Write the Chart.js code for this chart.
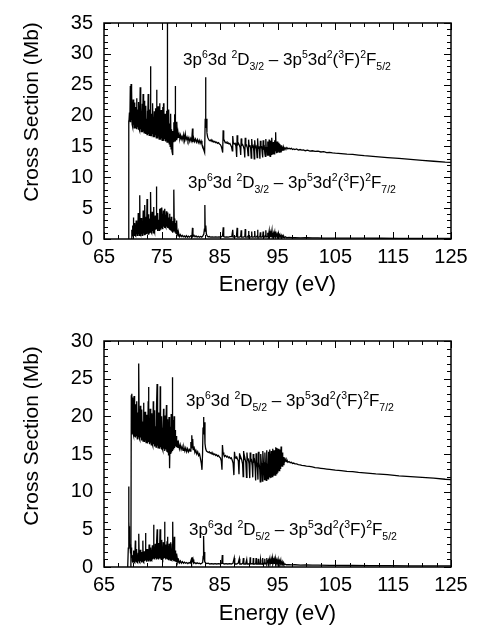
<!DOCTYPE html>
<html><head><meta charset="utf-8">
<script src="https://cdn.jsdelivr.net/npm/chart.js@4.4.1/dist/chart.umd.min.js"></script>
<style>
html,body{margin:0;padding:0;background:#fff;}
#wrap{position:relative;width:477px;height:632px;overflow:hidden;background:#fff;}
canvas{position:absolute;left:0;}
.lbl{position:absolute;font-family:"Liberation Sans",Arial,sans-serif;font-size:17px;color:#000;white-space:nowrap;line-height:1;}
.lbl sup{font-size:10.5px;vertical-align:0;position:relative;top:-7px;}
.lbl sub{font-size:10.5px;vertical-align:0;position:relative;top:5px;}
</style></head>
<body><div id="wrap">
<canvas id="c1" width="477" height="316" style="top:0"></canvas>
<canvas id="c2" width="477" height="316" style="top:316px"></canvas>
<div class="lbl" style="left:183px;top:51px">3p<sup>6</sup>3d <sup>2</sup>D<sub>3/2</sub> – 3p<sup>5</sup>3d<sup>2</sup>(<sup>3</sup>F)<sup>2</sup>F<sub>5/2</sub></div>
<div class="lbl" style="left:188px;top:174px">3p<sup>6</sup>3d <sup>2</sup>D<sub>3/2</sub> – 3p<sup>5</sup>3d<sup>2</sup>(<sup>3</sup>F)<sup>2</sup>F<sub>7/2</sub></div>
<div class="lbl" style="left:186px;top:392px">3p<sup>6</sup>3d <sup>2</sup>D<sub>5/2</sub> – 3p<sup>5</sup>3d<sup>2</sup>(<sup>3</sup>F)<sup>2</sup>F<sub>7/2</sub></div>
<div class="lbl" style="left:189px;top:521px">3p<sup>6</sup>3d <sup>2</sup>D<sub>5/2</sub> – 3p<sup>5</sup>3d<sup>2</sup>(<sup>3</sup>F)<sup>2</sup>F<sub>5/2</sub></div>
</div>
<script>
// ---- tick labels ----
const energyTicks = [65, 75, 85, 95, 105, 115, 125];
const topSigmaTicks = [0, 5, 10, 15, 20, 25, 30, 35];
const bottomSigmaTicks = [0, 5, 10, 15, 20, 25, 30];
const xTitle = "Energy (eV)";
const yTitle = "Cross Section (Mb)";

// ---- series: [energy (eV), cross section (Mb)] ----
// top panel, 3p6 3d 2D3/2 -> 3p5 3d2(3F) 2F5/2
const topUpper = [
[69.20,0],[69.25,19.2],[69.32,18.6],[69.40,20.5],[69.47,19.0],[69.55,24.8],[69.60,18.9],[69.68,25.1],[69.74,19.3],[69.80,24.2],
[69.86,18.6],[69.92,21.8],[69.98,18.2],[70.04,22.6],[70.10,18.5],[70.16,20.9],[70.22,18.0],[70.28,22.1],[70.34,18.3],[70.40,21.4],
[70.46,17.9],[70.52,20.2],[70.58,18.4],[70.64,22.8],[70.70,17.8],[70.76,21.0],[70.82,18.1],[70.88,20.4],[70.94,17.7],[71.00,22.2],
[71.06,17.9],[71.12,20.6],[71.18,17.6],[71.26,24.6],[71.32,17.8],[71.38,21.3],[71.44,17.4],[71.50,20.1],[71.56,17.7],[71.62,21.9],
[71.68,17.3],[71.76,23.5],[71.82,17.5],[71.88,20.0],[71.94,17.2],[72.00,22.4],[72.06,17.4],[72.12,19.8],[72.18,17.0],[72.26,21.6],
[72.32,17.3],[72.38,19.5],[72.44,16.9],[72.50,20.8],[72.56,17.2],[72.64,23.5],[72.70,17.0],[72.76,19.9],[72.82,16.8],[72.90,21.0],
[72.96,17.1],[73.04,28.0],[73.10,16.9],[73.16,20.3],[73.22,16.7],[73.30,19.1],[73.36,17.0],[73.44,22.0],[73.50,16.6],[73.56,19.6],
[73.62,16.9],[73.70,20.7],[73.76,16.5],[73.82,19.0],[73.88,16.8],[73.96,21.2],[74.04,16.4],[74.10,24.2],[74.16,16.7],[74.22,19.3],
[74.28,16.3],[74.36,21.5],[74.42,16.6],[74.48,19.0],[74.54,16.2],[74.62,22.0],[74.68,16.5],[74.74,18.8],[74.80,16.1],[74.88,20.9],
[74.94,16.4],[75.00,19.2],[75.06,16.0],[75.14,21.4],[75.20,16.3],[75.30,22.0],[75.36,15.9],[75.42,19.0],[75.48,16.2],[75.56,20.3],
[75.62,15.8],[75.70,18.6],[75.76,16.1],[75.84,20.8],[75.90,15.7],[75.95,35.5],[76.00,15.9],[76.08,19.4],[76.14,15.6],[76.22,21.0],
[76.28,15.4],[76.36,18.7],[76.44,15.0],[76.52,20.3],[76.60,14.6],[76.68,17.8],[76.76,14.2],[76.86,13.6],[76.92,17.5],[77.00,15.8],
[77.08,18.9],[77.14,16.0],[77.22,20.2],[77.28,15.9],[77.32,24.8],[77.38,16.2],[77.46,18.1],[77.54,16.0],[77.62,19.0],[77.70,16.3],
[77.80,17.2],[77.90,16.4],[78.00,16.9],[78.12,16.3],[78.24,16.8],[78.36,16.2],[78.50,16.6],[78.64,16.1],[78.78,16.9],[78.92,16.0],
[79.06,17.0],[79.20,16.1],[79.36,16.5],[79.52,15.9],[79.68,16.4],[79.84,15.8],[80.00,16.3],[80.16,15.9],[80.30,17.9],[80.38,15.7],
[80.50,16.4],[80.66,15.8],[80.82,16.2],[80.98,15.7],[81.14,16.1],[81.30,15.6],[81.46,16.0],[81.62,15.5],[81.78,15.9],[81.94,15.3],
[82.10,15.0],[82.26,14.4],[82.40,14.0],[82.50,19.5],[82.56,26.2],[82.62,18.0],[82.70,19.5],[82.80,17.2],[82.92,16.5],[83.06,16.2],
[83.20,16.0],[83.36,15.9],[83.52,16.1],[83.68,15.8],[83.84,15.9],[84.00,15.7],[84.16,15.8],[84.32,15.6],[84.48,15.7],[84.64,15.5],
[84.80,15.6],[84.96,15.4],[85.12,15.3],[85.28,15.0],[85.42,14.5],[85.52,14.0],[85.60,17.6],[85.70,16.2],[85.82,15.9],[85.96,15.6],
[86.12,15.7],[86.28,15.5],[86.44,15.6],[86.60,15.4],[86.76,15.5],[86.92,15.2],[87.06,14.9],[87.18,14.3],[87.26,16.7],[87.36,15.6],
[87.50,15.4],[87.66,15.5],[87.82,15.0],[87.94,13.3],[88.02,16.8],[88.12,15.3],[88.26,15.5],[88.40,15.2],[88.54,14.8],[88.64,13.6],
[88.72,16.3],[88.82,15.2],[88.96,15.3],[89.10,15.0],[89.24,14.5],[89.34,13.2],[89.42,16.4],[89.52,15.1],[89.66,15.2],[89.80,14.7],
[89.92,13.5],[90.00,16.1],[90.10,15.0],[90.24,15.2],[90.36,14.6],[90.46,13.1],[90.54,16.2],[90.64,14.9],[90.78,15.1],[90.90,14.3],
[90.98,13.0],[91.06,16.0],[91.16,14.8],[91.30,15.0],[91.40,14.2],[91.48,13.2],[91.56,16.3],[91.66,14.7],[91.78,15.0],[91.88,14.1],
[91.96,13.0],[92.04,15.9],[92.14,14.8],[92.26,14.9],[92.36,13.9],[92.44,13.2],[92.52,16.0],[92.62,14.7],[92.72,14.9],[92.82,13.8],
[92.90,13.4],[92.98,16.2],[93.06,14.6],[93.16,14.9],[93.24,13.6],[93.32,15.8],[93.40,14.5],[93.48,13.5],[93.56,16.1],[93.64,14.6],
[93.72,13.4],[93.80,15.9],[93.88,14.5],[93.96,13.6],[94.04,16.4],[94.12,14.4],[94.20,13.7],[94.28,15.7],[94.36,14.5],[94.44,13.8],
[94.52,16.0],[94.60,14.4],[94.68,17.3],[94.76,14.3],[94.84,13.9],[94.92,15.8],[95.00,14.4],[95.08,14.0],[95.16,15.6],[95.24,14.3],
[95.32,14.1],[95.40,15.4],[95.48,14.3],[95.56,14.2],[95.64,15.2],[95.72,14.3],[95.80,14.4],[95.88,15.0],[95.96,14.4],[96.06,14.8],
[96.16,14.5],[96.30,14.8],[96.46,14.6],[96.62,14.8],[96.80,14.6],[97.00,14.7],[97.20,14.6],[97.40,14.7],[97.60,14.5],[97.80,14.6],
[98.00,14.5],[98.30,14.6],[98.60,14.4],[98.90,14.5],[99.20,14.4],[99.50,14.45],[99.80,14.3],[100.2,14.4],[100.6,14.25],[101.0,14.3],
[101.5,14.2],[102.0,14.25],[102.5,14.1],[103.0,14.15],[103.5,14.0],[104.0,14.05],[104.5,13.95],[105.0,13.9],[106,13.85],[107,13.75],
[108,13.7],[109,13.6],[110,13.5],[112,13.35],[114,13.2],[116,13.05],[118,12.9],[120,12.75],[122,12.6],[124,12.45],[125,12.4]
];
// top panel, 3p6 3d 2D3/2 -> 3p5 3d2(3F) 2F7/2
const topLower = [
[69.70,0],[69.78,0.6],[69.84,1.5],[69.90,0.5],[69.96,2.2],[70.02,0.6],[70.08,3.5],[70.14,0.7],[70.20,1.8],[70.26,0.5],
[70.32,2.6],[70.38,0.6],[70.44,1.4],[70.50,0.5],[70.56,3.0],[70.62,0.8],[70.68,1.9],[70.74,0.6],[70.80,2.4],[70.86,0.7],
[70.92,4.2],[70.98,0.8],[71.04,1.6],[71.10,0.6],[71.18,7.1],[71.24,0.9],[71.30,2.5],[71.36,0.7],[71.42,3.4],[71.48,0.8],
[71.54,1.7],[71.60,0.6],[71.66,2.8],[71.72,0.8],[71.78,4.6],[71.84,0.9],[71.90,2.0],[71.96,0.7],[72.04,5.5],[72.10,0.8],
[72.16,2.3],[72.22,0.9],[72.30,3.6],[72.36,0.8],[72.44,6.5],[72.50,1.0],[72.56,2.7],[72.62,0.8],[72.70,4.0],[72.76,1.1],
[72.82,2.2],[72.88,0.9],[72.96,3.3],[73.02,1.0],[73.08,7.6],[73.14,1.2],[73.20,2.9],[73.26,1.0],[73.34,4.4],[73.40,1.3],
[73.46,2.5],[73.52,1.0],[73.60,5.2],[73.66,1.4],[73.72,3.0],[73.78,1.1],[73.86,3.8],[73.92,1.5],[74.00,2.6],[74.06,8.5],
[74.12,1.6],[74.18,3.4],[74.24,1.3],[74.32,4.2],[74.38,1.7],[74.46,3.1],[74.52,1.4],[74.60,4.9],[74.66,1.8],[74.72,3.5],
[74.78,1.5],[74.84,5.0],[74.90,1.9],[74.96,3.6],[75.02,5.1],[75.08,1.7],[75.14,4.0],[75.20,1.9],[75.28,4.6],[75.34,2.0],
[75.40,3.8],[75.46,1.8],[75.54,4.9],[75.60,2.1],[75.66,3.9],[75.72,1.9],[75.80,4.5],[75.86,2.0],[75.92,3.7],[75.98,1.8],
[76.06,4.3],[76.12,1.9],[76.20,3.5],[76.26,1.7],[76.34,4.1],[76.40,1.6],[76.48,3.2],[76.56,1.4],[76.64,3.6],[76.72,1.2],
[76.80,2.4],[76.88,1.0],[76.96,2.9],[77.04,1.2],[77.10,8.0],[77.16,1.4],[77.24,3.3],[77.30,1.1],[77.38,2.6],[77.46,0.9],
[77.56,3.0],[77.64,0.7],[77.72,1.5],[77.80,0.5],[77.92,0.9],[78.04,0.4],[78.20,0.7],[78.36,0.4],[78.52,0.6],[78.70,0.35],
[78.88,0.5],[79.06,0.3],[79.24,0.55],[79.42,0.3],[79.60,0.45],[79.80,0.3],[80.00,0.5],[80.20,0.4],[80.30,1.8],[80.38,0.4],
[80.56,0.6],[80.74,0.35],[80.92,0.5],[81.10,0.3],[81.30,0.45],[81.50,0.3],[81.70,0.4],[81.90,0.3],[82.10,0.5],[82.26,0.8],
[82.36,1.6],[82.44,5.5],[82.50,1.3],[82.60,2.2],[82.70,0.8],[82.84,0.5],[83.00,0.35],[83.20,0.4],[83.40,0.3],[83.70,0.35],
[84.00,0.3],[84.30,0.35],[84.60,0.3],[84.90,0.35],[85.20,0.3],[85.50,0.5],[85.62,1.9],[85.70,0.4],[85.90,0.3],[86.20,0.35],
[86.50,0.3],[86.80,0.4],[87.10,0.4],[87.26,1.5],[87.34,0.3],[87.60,0.3],[87.90,0.4],[88.02,1.8],[88.10,0.3],[88.40,0.3],
[88.64,0.4],[88.72,1.4],[88.80,0.3],[89.10,0.3],[89.36,0.4],[89.42,1.6],[89.50,0.3],[89.80,0.3],[89.94,0.5],[90.00,1.3],
[90.06,0.3],[90.30,0.3],[90.48,0.4],[90.54,1.2],[90.60,0.3],[90.80,0.3],[91.00,0.4],[91.06,1.3],[91.12,0.3],[91.30,0.3],
[91.50,0.5],[91.56,1.5],[91.62,0.3],[91.80,0.3],[91.96,0.4],[92.04,1.1],[92.10,0.3],[92.30,0.3],[92.46,0.5],[92.52,1.2],
[92.58,0.3],[92.76,0.3],[92.90,0.6],[92.98,1.4],[93.04,0.3],[93.20,0.4],[93.32,1.0],[93.40,0.3],[93.56,1.3],[93.62,0.3],
[93.80,1.0],[93.86,0.3],[94.04,1.4],[94.10,0.3],[94.28,0.9],[94.34,0.3],[94.52,1.1],[94.58,0.3],[94.68,1.2],[94.74,0.3],
[94.92,0.8],[95.00,0.3],[95.16,0.9],[95.22,0.3],[95.40,0.7],[95.46,0.25],[95.64,0.6],[95.72,0.25],[95.88,0.5],[95.96,0.25],
[96.10,0.4],[96.20,0.2],[96.40,0.35],[96.60,0.2],[97.00,0.25],[97.5,0.2],[98.0,0.22],[99,0.18],[100,0.2],[101,0.17],
[102,0.18],[103,0.15],[105,0.15],[107,0.14],[110,0.13],[113,0.12],[116,0.11],[120,0.1],[125,0.1]
];
// bottom panel, 3p6 3d 2D5/2 -> 3p5 3d2(3F) 2F7/2
const bottomUpper = [
[69.65,0],[69.72,22.8],[69.78,17.6],[69.84,23.0],[69.90,18.2],[69.96,22.5],[70.02,17.8],[70.08,21.0],[70.14,17.5],[70.20,22.7],
[70.26,17.3],[70.32,20.4],[70.38,17.6],[70.44,21.6],[70.50,17.2],[70.56,19.8],[70.62,17.4],[70.70,22.0],[70.76,17.0],[70.82,20.5],
[70.88,17.3],[70.96,21.2],[71.04,27.0],[71.10,17.1],[71.16,20.0],[71.22,16.9],[71.30,21.4],[71.36,17.2],[71.42,19.5],[71.48,16.8],
[71.56,20.9],[71.62,17.0],[71.70,19.3],[71.76,16.7],[71.84,21.8],[71.90,16.9],[71.96,19.0],[72.02,16.6],[72.10,20.6],[72.16,16.8],
[72.22,19.2],[72.28,16.5],[72.36,20.2],[72.42,16.7],[72.50,18.9],[72.56,16.4],[72.64,22.0],[72.70,23.9],[72.76,16.6],[72.84,19.4],
[72.90,16.3],[72.98,21.0],[73.04,16.5],[73.12,19.0],[73.18,16.2],[73.26,20.4],[73.32,16.4],[73.40,18.8],[73.46,16.1],[73.52,22.0],
[73.58,16.3],[73.66,19.2],[73.72,16.0],[73.80,20.8],[73.86,16.2],[73.94,18.7],[74.00,15.9],[74.08,21.2],[74.18,24.3],[74.24,16.1],
[74.30,19.0],[74.36,15.8],[74.44,20.5],[74.50,16.0],[74.58,18.6],[74.64,15.7],[74.72,24.0],[74.78,15.9],[74.86,19.3],[74.92,15.6],
[75.00,20.0],[75.06,15.8],[75.14,18.5],[75.20,15.5],[75.30,21.0],[75.36,15.7],[75.44,19.2],[75.50,15.4],[75.58,20.1],[75.64,15.6],
[75.72,18.4],[75.80,21.5],[75.86,15.3],[75.94,19.6],[76.00,15.2],[76.08,18.2],[76.16,14.8],[76.24,19.9],[76.30,14.3],[76.38,13.1],
[76.46,18.6],[76.54,15.0],[76.62,20.3],[76.68,15.2],[76.76,18.0],[76.82,25.2],[76.88,15.4],[76.96,19.5],[77.04,15.6],[77.12,20.0],
[77.20,15.8],[77.28,18.2],[77.36,16.0],[77.46,17.4],[77.56,15.9],[77.66,16.8],[77.78,15.8],[77.90,16.4],[78.04,15.7],[78.18,16.2],
[78.34,15.6],[78.50,16.0],[78.66,15.5],[78.82,15.9],[78.98,15.4],[79.14,15.8],[79.30,15.3],[79.46,15.7],[79.62,15.3],[79.78,15.6],
[79.92,15.4],[80.02,16.6],[80.10,15.8],[80.18,17.5],[80.26,16.2],[80.34,17.0],[80.42,15.6],[80.56,16.0],[80.72,15.2],[80.88,15.5],
[81.04,15.0],[81.20,15.3],[81.36,14.8],[81.52,15.0],[81.68,14.4],[81.82,13.8],[81.94,12.9],[82.04,15.0],[82.12,18.5],[82.20,19.9],
[82.28,17.6],[82.36,19.2],[82.46,16.4],[82.58,15.7],[82.72,15.4],[82.88,15.3],[83.04,15.2],[83.20,15.3],[83.36,15.1],[83.52,15.2],
[83.68,15.0],[83.84,15.1],[84.00,14.9],[84.16,15.0],[84.32,14.8],[84.48,14.9],[84.64,14.7],[84.80,14.8],[84.96,14.6],[85.12,14.5],
[85.28,14.1],[85.40,12.9],[85.48,16.2],[85.58,15.2],[85.72,14.9],[85.88,14.7],[86.04,14.8],[86.20,14.6],[86.36,14.7],[86.52,14.5],
[86.68,14.6],[86.84,14.4],[87.00,14.5],[87.16,14.2],[87.32,13.8],[87.46,12.2],[87.56,15.3],[87.66,14.6],[87.80,14.5],[87.94,14.6],
[88.08,14.3],[88.22,14.1],[88.34,12.3],[88.44,15.1],[88.54,14.4],[88.68,14.5],[88.82,14.2],[88.96,13.7],[89.06,12.0],[89.14,15.4],
[89.24,14.3],[89.38,14.4],[89.52,13.9],[89.64,11.9],[89.72,15.2],[89.82,14.2],[89.96,14.3],[90.08,13.7],[90.20,11.8],[90.28,15.2],
[90.38,14.1],[90.50,14.2],[90.62,13.5],[90.72,11.9],[90.80,15.0],[90.90,14.0],[91.02,14.2],[91.12,13.3],[91.22,11.5],[91.30,15.1],
[91.40,14.0],[91.52,13.2],[91.62,11.6],[91.70,15.3],[91.80,13.9],[91.92,13.1],[92.02,11.3],[92.10,15.0],[92.20,13.8],[92.30,12.8],
[92.38,11.4],[92.46,15.4],[92.56,13.9],[92.66,12.6],[92.74,11.6],[92.82,15.2],[92.90,13.8],[92.98,12.4],[93.06,11.5],[93.14,15.5],
[93.22,13.7],[93.30,12.2],[93.38,11.7],[93.46,15.3],[93.54,13.8],[93.62,11.9],[93.70,15.6],[93.78,13.7],[93.86,11.8],[93.94,15.4],
[94.02,13.6],[94.10,12.0],[94.18,15.7],[94.26,13.7],[94.34,12.1],[94.42,15.5],[94.50,13.6],[94.58,12.2],[94.66,15.9],[94.74,13.5],
[94.82,12.4],[94.90,15.8],[94.98,13.6],[95.06,12.5],[95.14,15.7],[95.22,13.6],[95.30,12.8],[95.38,15.6],[95.46,13.7],[95.54,13.0],
[95.62,16.0],[95.70,13.8],[95.78,13.4],[95.86,15.2],[95.94,13.9],[96.02,13.6],[96.12,14.6],[96.22,14.0],[96.34,14.3],[96.48,14.0],
[96.64,14.2],[96.80,13.9],[97.00,14.0],[97.20,13.85],[97.40,13.9],[97.60,13.75],[97.80,13.8],[98.00,13.7],[98.30,13.7],[98.60,13.6],
[98.90,13.55],[99.20,13.5],[99.60,13.45],[100.0,13.4],[100.5,13.35],[101.0,13.3],[101.5,13.2],[102.0,13.15],[102.5,13.1],[103.0,13.05],
[103.5,13.0],[104.0,12.95],[105,12.85],[106,12.8],[107,12.7],[108,12.65],[109,12.55],[110,12.5],[112,12.35],[114,12.25],
[116,12.1],[118,12.0],[120,11.9],[122,11.8],[124,11.65],[125,11.6]
];
// bottom panel, 3p6 3d 2D5/2 -> 3p5 3d2(3F) 2F5/2
const bottomLower = [
[69.10,0],[69.20,2.5],[69.26,10.7],[69.32,6.0],[69.38,4.2],[69.44,5.4],[69.50,3.0],[69.56,2.5],[69.62,1.8],[69.68,2.6],
[69.74,1.2],[69.80,1.8],[69.86,0.8],[69.92,1.4],[69.98,0.7],[70.04,1.6],[70.10,0.6],[70.16,2.2],[70.22,0.7],[70.28,1.3],
[70.34,0.6],[70.42,3.5],[70.48,0.7],[70.54,1.5],[70.60,0.6],[70.66,2.4],[70.72,0.7],[70.78,1.2],[70.84,0.6],[70.92,1.9],
[70.98,0.8],[71.04,4.4],[71.10,0.7],[71.16,1.6],[71.22,0.6],[71.30,2.3],[71.36,0.8],[71.42,1.3],[71.48,0.6],[71.56,2.0],
[71.62,0.8],[71.72,3.5],[71.78,0.7],[71.84,1.4],[71.90,0.6],[71.98,2.1],[72.04,0.8],[72.12,1.5],[72.18,4.5],[72.24,0.9],
[72.30,1.8],[72.36,0.7],[72.44,2.4],[72.50,0.9],[72.58,1.6],[72.64,0.8],[72.72,1.2],[72.80,3.0],[72.86,0.9],[72.94,2.0],
[73.00,0.8],[73.08,2.6],[73.14,1.0],[73.22,1.8],[73.28,0.9],[73.36,2.9],[73.42,1.0],[73.50,2.2],[73.58,5.6],[73.64,1.1],
[73.72,2.7],[73.78,1.0],[73.86,3.1],[73.92,1.2],[74.00,2.4],[74.06,1.0],[74.14,3.4],[74.20,5.0],[74.26,1.1],[74.34,2.8],
[74.40,1.0],[74.48,3.2],[74.54,1.2],[74.62,2.5],[74.70,5.0],[74.76,1.1],[74.84,2.9],[74.90,1.0],[74.98,3.6],[75.04,1.2],
[75.12,2.6],[75.18,1.0],[75.26,3.3],[75.32,1.1],[75.40,2.4],[75.48,6.0],[75.54,1.2],[75.62,3.0],[75.68,1.0],[75.76,2.7],
[75.82,1.1],[75.90,3.4],[75.98,4.0],[76.04,1.0],[76.12,2.8],[76.18,0.9],[76.26,3.1],[76.32,1.0],[76.40,2.5],[76.46,0.9],
[76.54,3.3],[76.60,1.0],[76.68,2.4],[76.74,0.9],[76.82,3.0],[76.88,6.0],[76.94,1.0],[77.02,2.6],[77.08,0.9],[77.16,4.0],
[77.22,0.8],[77.30,2.2],[77.38,0.7],[77.46,1.8],[77.56,0.6],[77.66,1.2],[77.78,0.6],[77.92,0.9],[78.06,0.55],[78.22,0.8],
[78.38,0.5],[78.56,0.7],[78.74,0.5],[78.92,0.65],[79.10,0.5],[79.30,0.6],[79.50,0.45],[79.70,0.6],[79.90,0.5],[80.06,0.9],
[80.14,0.6],[80.22,1.3],[80.30,0.6],[80.40,1.0],[80.52,0.5],[80.70,0.6],[80.90,0.45],[81.10,0.55],[81.30,0.45],[81.50,0.5],
[81.70,0.4],[81.90,0.5],[82.06,0.6],[82.14,1.4],[82.22,4.1],[82.30,1.2],[82.38,2.0],[82.46,0.7],[82.60,0.5],[82.80,0.45],
[83.00,0.5],[83.30,0.4],[83.60,0.45],[83.90,0.4],[84.20,0.45],[84.50,0.4],[84.80,0.45],[85.10,0.4],[85.36,0.5],[85.46,1.6],
[85.54,0.5],[85.80,0.4],[86.10,0.45],[86.40,0.4],[86.70,0.45],[87.00,0.4],[87.30,0.5],[87.52,1.2],[87.60,0.4],[87.90,0.4],
[88.20,0.5],[88.40,1.1],[88.48,0.4],[88.80,0.4],[89.00,0.5],[89.10,1.2],[89.18,0.4],[89.50,0.4],[89.68,1.0],[89.76,0.4],
[90.00,0.4],[90.22,0.5],[90.28,1.3],[90.34,0.4],[90.60,0.45],[90.76,0.4],[90.82,1.2],[90.88,0.4],[91.10,0.4],[91.24,0.5],
[91.30,1.2],[91.36,0.4],[91.60,0.4],[91.68,1.1],[91.74,0.4],[91.96,0.4],[92.06,1.0],[92.12,0.4],[92.34,0.4],[92.44,1.2],
[92.50,0.4],[92.70,0.5],[92.80,1.1],[92.86,0.4],[93.04,0.5],[93.12,1.2],[93.18,0.4],[93.40,0.9],[93.46,0.4],[93.66,1.1],
[93.72,0.4],[93.90,1.0],[93.96,0.4],[94.14,1.2],[94.20,0.4],[94.40,1.0],[94.46,0.4],[94.62,1.1],[94.68,0.4],[94.86,0.9],
[94.92,0.4],[95.10,1.0],[95.16,0.4],[95.34,0.8],[95.40,0.4],[95.56,0.9],[95.62,0.35],[95.80,0.7],[95.86,0.35],[96.00,0.6],
[96.10,0.3],[96.30,0.4],[96.50,0.3],[97.0,0.3],[97.5,0.28],[98,0.3],[99,0.26],[100,0.27],[101,0.25],[102,0.24],
[104,0.22],[106,0.21],[108,0.2],[111,0.18],[114,0.17],[118,0.16],[122,0.15],[125,0.14]
];

const FONT = '"Liberation Sans", Arial, Helvetica, sans-serif';
Chart.defaults.font.family = FONT;
Chart.defaults.color = '#000';

const toPts = arr => arr.map(p => ({x: p[0], y: p[1]}));

// frame + inward ticks on all four sides + rotated y title
const framePlugin = {
  id: 'frame',
  afterDatasetsDraw(chart, args, opts) {
    const {ctx, chartArea: a, scales: {x, y}} = chart;
    ctx.save();
    ctx.strokeStyle = '#000';
    ctx.lineWidth = 1;
    ctx.beginPath();
    for (let v = 65; v <= 125.001; v += 2.5) {
      const px = Math.round(x.getPixelForValue(v)) + 0.5;
      const len = (Math.abs((v - 65) % 10) < 0.01) ? 7 : 4;
      ctx.moveTo(px, a.bottom); ctx.lineTo(px, a.bottom - len);
      ctx.moveTo(px, a.top); ctx.lineTo(px, a.top + len);
    }
    for (let v = 0; v <= opts.ymax + 0.001; v += 1) {
      const py = Math.round(y.getPixelForValue(v)) + 0.5;
      const len = (v % 5 === 0) ? 7 : 4;
      ctx.moveTo(a.left, py); ctx.lineTo(a.left + len, py);
      ctx.moveTo(a.right, py); ctx.lineTo(a.right - len, py);
    }
    ctx.stroke();
    ctx.lineWidth = 1.5;
    ctx.strokeRect(a.left, a.top, a.right - a.left, a.bottom - a.top);
    // y-axis title
    ctx.translate(opts.titleX, opts.titleY);
    ctx.rotate(-Math.PI / 2);
    ctx.font = '21px ' + FONT;
    ctx.fillStyle = '#000';
    ctx.textAlign = 'center';
    ctx.textBaseline = 'middle';
    ctx.fillText(yTitle, 0, 0);
    ctx.restore();
  }
};

function makeChart(id, upper, lower, ymax, yTicks, padTop, xAxisH, xTitlePad, titleY) {
  return new Chart(document.getElementById(id), {
    type: 'line',
    data: {
      datasets: [
        {label: 'upper', data: toPts(upper), borderColor: '#000', borderWidth: 1.3, pointRadius: 0, tension: 0},
        {label: 'lower', data: toPts(lower), borderColor: '#000', borderWidth: 1.3, pointRadius: 0, tension: 0}
      ]
    },
    options: {
      responsive: false,
      animation: false,
      devicePixelRatio: 1,
      layout: {padding: {top: padTop, right: 26, left: 0, bottom: 0}},
      plugins: {legend: {display: false}, tooltip: {enabled: false}, frame: {ymax: ymax, titleX: 32, titleY: titleY}},
      scales: {
        x: {
          type: 'linear', min: 65, max: 125,
          afterBuildTicks: s => { s.ticks = energyTicks.map(v => ({value: v})); },
          afterFit: s => { s.height = xAxisH; },
          grid: {display: false, drawTicks: false},
          border: {display: false},
          ticks: {font: {size: 20}, color: '#000', padding: 6, maxRotation: 0, autoSkip: false},
          title: {display: true, text: xTitle, font: {size: 22}, color: '#000', padding: {top: 0, bottom: xTitlePad}}
        },
        y: {
          type: 'linear', min: 0, max: ymax,
          afterBuildTicks: s => { s.ticks = yTicks.map(v => ({value: v})); },
          afterFit: s => { s.width = 104; },
          grid: {display: false, drawTicks: false},
          border: {display: false},
          ticks: {font: {size: 20}, color: '#000', padding: 11, autoSkip: false},
          title: {display: false}
        }
      }
    },
    plugins: [framePlugin]
  });
}

makeChart('c1', topUpper, topLower, 35, topSigmaTicks, 12, 77, 18, 112);
makeChart('c2', bottomUpper, bottomLower, 30, bottomSigmaTicks, 25, 65, 5, 120);
</script>
</body></html>
